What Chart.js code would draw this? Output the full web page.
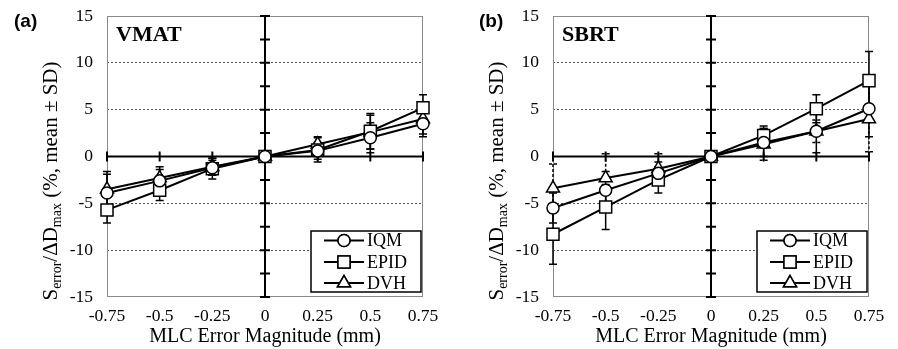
<!DOCTYPE html>
<html>
<head>
<meta charset="utf-8">
<script src="https://cdn.jsdelivr.net/npm/chart.js@4.4.1/dist/chart.umd.min.js"></script>
<style>
  html, body { margin: 0; padding: 0; background: #fff; }
  #wrap { position: relative; width: 898px; height: 349px; overflow: hidden; }
  .panel { position: absolute; top: 0; width: 449px; height: 349px; }
  #panelA { left: 0; }
  #panelB { left: 446px; }
  .tag { position: absolute; top: 11px; font: bold 19px "Liberation Sans", Arial, sans-serif; line-height: 19px; color: #000; }
</style>
</head>
<body>
<div id="wrap">
  <div class="panel" id="panelA"><canvas id="chartA" width="449" height="349"></canvas><span class="tag" style="left:14px">(a)</span></div>
  <div class="panel" id="panelB"><canvas id="chartB" width="449" height="349"></canvas><span class="tag" style="left:33px">(b)</span></div>
</div>
<script>
'use strict';

// --- data ---------------------------------------------------------------
const xValues = [-0.75, -0.5, -0.25, 0, 0.25, 0.5, 0.75];
const xLabels = ['-0.75', '-0.5', '-0.25', '0', '0.25', '0.5', '0.75'];
const yTicks  = [15, 10, 5, 0, -5, -10, -15];
const seriesNames = ['IQM', 'EPID', 'DVH'];

// (a) VMAT
const vmatIQM    = [-3.9, -2.6, -1.2, 0, 0.6, 2.0, 3.5];
const vmatIQMsd  = [2.0, 1.2, 0.8, 0, 0.9, 1.6, 1.4];
const vmatEPID   = [-5.7, -3.6, -1.3, 0, 0.7, 2.7, 5.2];
const vmatEPIDsd = [1.4, 1.1, 1.1, 0, 1.3, 1.9, 1.4];
const vmatDVH    = [-3.5, -2.3, -1.1, 0, 1.3, 2.6, 4.0];
const vmatDVHsd  = [1.9, 1.2, 0.9, 0, 0.8, 1.8, 1.6];

// (b) SBRT
const sbrtIQM    = [-5.5, -3.6, -1.8, 0, 1.5, 2.7, 5.1];
const sbrtIQMsd  = [1.6, 2.0, 1.2, 0, 1.5, 2.3, 3.0];
const sbrtEPID   = [-8.3, -5.4, -2.5, 0, 2.25, 5.1, 8.1];
const sbrtEPIDsd = [3.2, 2.4, 1.4, 0, 1.0, 1.5, 3.1];
const sbrtDVH    = [-3.4, -2.3, -1.3, 0, 1.3, 2.7, 4.0];
const sbrtDVHsd  = [2.6, 2.6, 1.6, 0, 1.7, 1.2, 3.5];

const SERIF = '"Liberation Serif", "Times New Roman", serif';
const pointStyles = ['circle', 'rect', 'triangle'];
const pointSizes = [6, 8.5, 7.5];

// error bars, frame, zero axes with cross ticks
const framePlugin = {
  id: 'frame',
  beforeDatasetsDraw(chart) {
    const { ctx, chartArea: a, scales: { x, y } } = chart;
    ctx.save();
    ctx.strokeStyle = '#8a8a8a';
    ctx.lineWidth = 1;
    ctx.strokeRect(a.left + 0.5, a.top + 0.5, a.right - a.left - 1, a.bottom - a.top - 1);

    const x0 = x.getPixelForValue(0), y0 = y.getPixelForValue(0);
    ctx.strokeStyle = '#000';
    ctx.lineWidth = 2;
    ctx.beginPath();
    ctx.moveTo(a.left, y0); ctx.lineTo(a.right, y0);
    ctx.moveTo(x0, a.top); ctx.lineTo(x0, a.bottom);
    // cross ticks on the horizontal zero line
    xValues.forEach(v => {
      const px = x.getPixelForValue(v);
      ctx.moveTo(px, y0 - 5); ctx.lineTo(px, y0 + 5);
    });
    // cross ticks on the vertical zero line (every 2.5)
    for (let v = -15; v <= 15; v += 2.5) {
      const py = y.getPixelForValue(v);
      ctx.moveTo(x0 - 5, py); ctx.lineTo(x0 + 5, py);
    }
    ctx.stroke();

    // error bars (mean ± SD)
    const sds = chart.options.plugins.frame.sds;
    const dashes = chart.options.plugins.frame.dashes;
    chart.data.datasets.forEach((ds, i) => {
      const meta = chart.getDatasetMeta(i);
      ctx.lineWidth = 1.5;
      ctx.setLineDash(dashes[i]);
      meta.data.forEach((pt, j) => {
        const sd = sds[i][j];
        if (!sd) return;
        const m = ds.data[j].y;
        const top = y.getPixelForValue(m + sd), bot = y.getPixelForValue(m - sd);
        ctx.beginPath();
        ctx.moveTo(pt.x, top); ctx.lineTo(pt.x, bot);
        ctx.moveTo(pt.x - 4, top); ctx.lineTo(pt.x + 4, top);
        ctx.moveTo(pt.x - 4, bot); ctx.lineTo(pt.x + 4, bot);
        ctx.stroke();
      });
    });
    ctx.restore();
  },
  afterDatasetsDraw(chart) {
    const { ctx, chartArea: a } = chart;
    const opts = chart.options.plugins.frame;
    ctx.save();

    // panel title
    ctx.fillStyle = '#000';
    ctx.font = 'bold 22px ' + SERIF;
    ctx.textBaseline = 'alphabetic';
    ctx.textAlign = 'left';
    ctx.fillText(opts.title, a.left + 9, a.top + 25);

    // legend box
    const bw = 110, bh = 61;
    const bx = a.right - 2 - bw, by = a.bottom - 5 - bh;
    ctx.fillStyle = '#fff';
    ctx.fillRect(bx, by, bw, bh);
    ctx.strokeStyle = '#000';
    ctx.lineWidth = 1.5;
    ctx.strokeRect(bx, by, bw, bh);
    const rows = [9.5, 31, 52];
    seriesNames.forEach((name, i) => {
      const ry = by + rows[i];
      ctx.beginPath();
      ctx.lineWidth = 2;
      ctx.moveTo(bx + 13, ry); ctx.lineTo(bx + 53, ry);
      ctx.stroke();
      ctx.fillStyle = '#fff';
      ctx.lineWidth = 1.5;
      Chart.helpers.drawPoint(ctx, { pointStyle: pointStyles[i], radius: pointSizes[i], borderWidth: 1.5 }, bx + 33, ry);
      ctx.fill();
      ctx.stroke();
      ctx.fillStyle = '#000';
      ctx.font = '18px ' + SERIF;
      ctx.textBaseline = 'middle';
      ctx.fillText(name, bx + 56, ry + 1);
    });

    // y axis title with subscripts, rotated
    const parts = [
      ['S', 21, 0], ['error', 14, 4], ['/\u0394D', 21, 0], ['max', 14, 4], [' (%, mean \u00b1 SD)', 21, 0]
    ];
    let total = 0;
    parts.forEach(p => { ctx.font = p[1] + 'px ' + SERIF; total += ctx.measureText(p[0]).width; });
    ctx.translate(opts.titleX, opts.titleY);
    ctx.rotate(-Math.PI / 2);
    ctx.textBaseline = 'alphabetic';
    ctx.fillStyle = '#000';
    let cx = -total / 2;
    parts.forEach(p => {
      ctx.font = p[1] + 'px ' + SERIF;
      ctx.fillText(p[0], cx, p[2]);
      cx += ctx.measureText(p[0]).width;
    });
    ctx.restore();
  }
};

function buildDatasets(series) {
  return series.map((vals, i) => ({
    label: seriesNames[i],
    data: xValues.map((x, j) => ({ x, y: vals[j] })),
    borderColor: '#000',
    borderWidth: 2,
    backgroundColor: '#fff',
    pointStyle: pointStyles[i],
    pointRadius: pointSizes[i],
    pointHoverRadius: pointSizes[i],
    pointBorderWidth: 1.5,
    pointBorderColor: '#000',
    pointBackgroundColor: '#fff',
    tension: 0,
    clip: false
  }));
}

function makeChart(id, title, series, sds, dashes) {
  return new Chart(document.getElementById(id), {
    type: 'line',
    data: { datasets: buildDatasets(series) },
    plugins: [framePlugin],
    options: {
      responsive: false,
      animation: false,
      events: [],
      layout: { autoPadding: false, padding: { left: 0, right: 26, top: 16, bottom: 0 } },
      plugins: {
        legend: { display: false },
        tooltip: { enabled: false },
        frame: { title, sds, dashes, titleX: 57, titleY: 181 }
      },
      scales: {
        x: {
          type: 'linear',
          min: -0.75, max: 0.75,
          afterBuildTicks: s => { s.ticks = xValues.map(v => ({ value: v })); },
          afterFit: s => { s.height = 52; s.paddingLeft = 0; s.paddingRight = 0; },
          grid: { display: false, drawTicks: false },
          border: { display: false },
          ticks: {
            color: '#000', padding: 9, maxRotation: 0, autoSkip: false,
            font: { family: SERIF, size: 17.5 },
            callback: v => xLabels[xValues.indexOf(v)]
          },
          title: {
            display: true, text: 'MLC Error Magnitude (mm)', color: '#000',
            font: { family: SERIF, size: 20 }, padding: { top: 0, bottom: 0 }
          }
        },
        y: {
          min: -15, max: 15,
          afterBuildTicks: s => { s.ticks = yTicks.map(v => ({ value: v })); },
          afterFit: s => { s.width = 107; s.paddingTop = 0; s.paddingBottom = 0; },
          grid: {
            drawTicks: false, lineWidth: 1,
            color: c => (c.tick && [5, 10].includes(Math.abs(c.tick.value))) ? '#555' : 'rgba(0,0,0,0)'
          },
          border: { display: false, dash: [2, 2] },
          ticks: {
            color: '#000', padding: 14,
            font: { family: SERIF, size: 17.5 },
            callback: v => String(v)
          }
        }
      }
    }
  });
}

makeChart('chartA', 'VMAT',
  [vmatIQM, vmatEPID, vmatDVH],
  [vmatIQMsd, vmatEPIDsd, vmatDVHsd],
  [[], [], []]);
makeChart('chartB', 'SBRT',
  [sbrtIQM, sbrtEPID, sbrtDVH],
  [sbrtIQMsd, sbrtEPIDsd, sbrtDVHsd],
  [[], [], [3, 2]]);
</script>
</body>
</html>
